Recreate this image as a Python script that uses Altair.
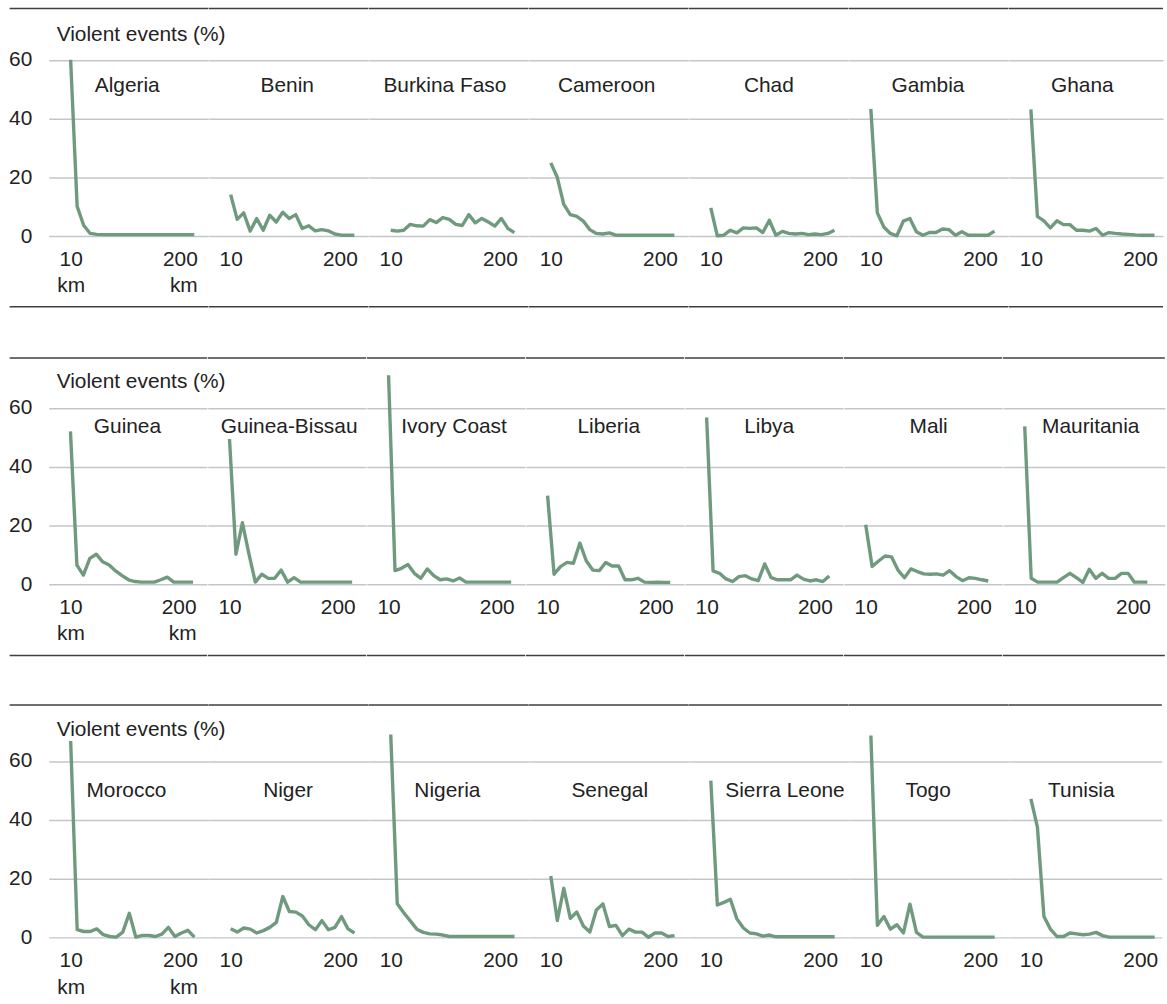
import altair as alt
import pandas as pd

# ---------------- data ----------------
KM = [10, 20, 30, 40, 50, 60, 70, 80, 90, 100, 110, 120, 130, 140, 150, 160, 170, 180, 190, 200]

ROW1 = ["Algeria", "Benin", "Burkina Faso", "Cameroon", "Chad", "Gambia", "Ghana"]
ROW2 = ["Guinea", "Guinea-Bissau", "Ivory Coast", "Liberia", "Libya", "Mali", "Mauritania"]
ROW3 = ["Morocco", "Niger", "Nigeria", "Senegal", "Sierra Leone", "Togo", "Tunisia"]

algeria = [60.0, 10.1, 3.7, 0.9, 0.6, 0.5, 0.5, 0.5, 0.5, 0.5, 0.5, 0.5, 0.5, 0.5, 0.5, 0.5, 0.5, 0.5, 0.5, 0.5]
benin = [14.1, 5.7, 7.9, 1.7, 6.0, 2.0, 7.1, 4.8, 8.1, 6.0, 7.3, 2.6, 3.5, 1.8, 2.2, 1.8, 0.7, 0.3, 0.3, 0.3]
burkina_faso = [2.0, 1.7, 2.0, 4.0, 3.5, 3.4, 5.6, 4.6, 6.3, 5.7, 4.0, 3.6, 7.3, 4.5, 6.0, 4.8, 3.4, 6.0, 2.6, 1.2]
cameroon = [24.9, 20.0, 10.8, 7.3, 6.7, 5.1, 2.2, 0.9, 0.7, 1.1, 0.3, 0.3, 0.3, 0.3, 0.3, 0.3, 0.3, 0.3, 0.3, 0.3]
chad = [9.6, 0.1, 0.3, 2.0, 1.1, 2.8, 2.6, 2.8, 1.2, 5.4, 0.3, 1.6, 0.9, 0.7, 0.9, 0.5, 0.7, 0.5, 0.9, 2.0]
gambia = [43.3, 7.9, 3.1, 0.9, 0.1, 5.1, 6.0, 1.5, 0.3, 1.2, 1.2, 2.4, 2.2, 0.3, 1.5, 0.3, 0.3, 0.3, 0.3, 1.7]
ghana = [43.1, 6.7, 5.2, 2.8, 5.2, 3.9, 3.9, 2.0, 2.0, 1.7, 2.6, 0.3, 1.2, 0.9, 0.7, 0.6, 0.4, 0.3, 0.3, 0.3]

guinea = [52.0, 6.5, 3.1, 8.8, 10.2, 7.6, 6.5, 4.5, 2.9, 1.5, 0.9, 0.7, 0.7, 0.7, 1.5, 2.4, 0.7, 0.7, 0.7, 0.7]
guinea_bissau = [49.4, 10.2, 20.9, 10.4, 0.7, 3.4, 2.0, 2.0, 4.8, 0.7, 2.2, 0.7, 0.7, 0.7, 0.7, 0.7, 0.7, 0.7, 0.7, 0.7]
ivory_coast = [71.1, 4.6, 5.4, 6.7, 3.7, 2.0, 5.2, 2.9, 1.5, 1.8, 1.1, 2.1, 0.7, 0.7, 0.7, 0.7, 0.7, 0.7, 0.7, 0.7]
liberia = [30.1, 3.4, 6.0, 7.4, 7.1, 14.0, 7.9, 4.8, 4.6, 7.4, 6.2, 6.2, 1.5, 1.5, 2.0, 0.7, 0.6, 0.7, 0.6, 0.6]
libya = [56.7, 4.5, 3.7, 1.8, 0.9, 2.6, 2.9, 1.8, 1.2, 6.9, 2.2, 1.5, 1.5, 1.5, 3.1, 1.7, 1.1, 1.5, 0.9, 2.8]
mali = [20.2, 6.0, 7.9, 9.6, 9.3, 4.8, 2.2, 5.2, 4.3, 3.5, 3.4, 3.5, 3.1, 4.6, 2.6, 1.2, 2.2, 2.0, 1.5, 1.1]
mauritania = [53.7, 2.0, 0.7, 0.7, 0.7, 0.7, 2.2, 3.7, 2.2, 0.6, 5.1, 2.0, 3.7, 2.0, 2.0, 3.7, 3.7, 0.7, 0.7, 0.7]

morocco = [66.8, 2.6, 2.0, 2.0, 2.9, 0.9, 0.3, 0.1, 1.8, 8.2, 0.1, 0.7, 0.7, 0.3, 1.1, 3.4, 0.3, 1.5, 2.4, 0.1]
niger = [2.9, 1.8, 3.2, 2.8, 1.5, 2.3, 3.4, 5.1, 13.9, 8.8, 8.6, 7.3, 4.3, 2.6, 5.7, 2.6, 3.4, 7.1, 2.9, 1.5]
nigeria = [69.0, 11.4, 8.4, 5.6, 2.8, 1.7, 1.2, 1.1, 0.8, 0.3, 0.3, 0.3, 0.3, 0.3, 0.3, 0.3, 0.3, 0.3, 0.3, 0.3]
senegal = [20.9, 5.7, 16.7, 6.5, 8.6, 3.9, 1.8, 9.3, 11.4, 3.7, 4.1, 0.6, 2.8, 1.8, 1.8, 0.0, 1.5, 1.5, 0.3, 0.6]
sierra_leone = [53.3, 11.0, 11.9, 13.0, 6.3, 3.2, 1.5, 1.2, 0.4, 0.8, 0.2, 0.2, 0.2, 0.2, 0.2, 0.2, 0.2, 0.2, 0.2, 0.2]
togo = [68.7, 4.1, 7.1, 2.8, 4.3, 1.5, 11.3, 1.7, 0.1, 0.1, 0.1, 0.1, 0.1, 0.1, 0.1, 0.1, 0.1, 0.1, 0.1, 0.1]
tunisia = [47.1, 37.5, 7.1, 2.8, 0.3, 0.3, 1.5, 1.2, 0.9, 1.1, 1.7, 0.6, 0.1, 0.1, 0.1, 0.1, 0.1, 0.1, 0.1, 0.1]

SERIES = {
    "Algeria": algeria, "Benin": benin, "Burkina Faso": burkina_faso, "Cameroon": cameroon,
    "Chad": chad, "Gambia": gambia, "Ghana": ghana,
    "Guinea": guinea, "Guinea-Bissau": guinea_bissau, "Ivory Coast": ivory_coast,
    "Liberia": liberia, "Libya": libya, "Mali": mali, "Mauritania": mauritania,
    "Morocco": morocco, "Niger": niger, "Nigeria": nigeria, "Senegal": senegal,
    "Sierra Leone": sierra_leone, "Togo": togo, "Tunisia": tunisia,
}

X_TICKS = [10, 200]
Y_TICKS = [0, 20, 40, 60]
Y_TITLE = "Violent events (%)"

# ---------------- tables ----------------
long_df = pd.DataFrame(
    [{"country": c, "km": k, "pct": v} for c, vals in SERIES.items() for k, v in zip(KM, vals)]
)
names_df = pd.DataFrame({"country": list(SERIES.keys())})

# ---------------- style / layout ----------------
FONT = "Liberation Sans"
FS = 21
TXT = "#222222"
GRID = "#c3c6c8"
RULE = "#3f3f3f"
GREEN = "#6f9a7e"
X_LO, X_SPAN = -23.7, 245.2
Y_DOMAIN = [0, 70]
H = 207
LEFT = 48.5          # page x of first plot area
RIGHT = 1166.5       # page x where the grid lines end

# page x of the centre of each panel's country name, per row
NAME_X = [
    [127.5, 288, 446, 608.3, 771, 930.5, 1085.3],
    [127.7, 289.5, 454.7, 609.5, 770, 929.7, 1092],
    [126.7, 289, 449, 612, 788, 931.7, 1085.5],
]


def panel(name, idx, w, pw, name_cx, rule_top, rule_bottom, name_y, title_y):
    first = idx == 0
    is200 = "datum.value == 200"
    x_hi = X_LO + pw * X_SPAN / w
    x_axis = alt.Axis(
        values=X_TICKS, grid=False, domain=False, ticks=False, tickSize=0,
        labelFont=FONT, labelFontSize=FS, labelColor=TXT, labelPadding=12.5,
        labelFlush=False, labelOverlap=False,
        labelAlign={"condition": {"test": is200, "value": "right"}, "value": "center"},
        labelOffset={"condition": {"test": is200, "value": 3}, "value": 0},
        labelLineHeight=26.5, title=None,
        labelExpr="[datum.label, 'km']" if first else "datum.label",
    )
    y_axis = alt.Axis(
        values=Y_TICKS, grid=True, gridColor=GRID, gridWidth=1.5,
        domain=False, ticks=False, tickSize=0, labels=first,
        labelFont=FONT, labelFontSize=FS, labelColor=TXT, labelPadding=17,
        title=None,
    )
    line = (
        alt.Chart(long_df)
        .transform_filter(alt.datum.country == name)
        .mark_line(color=GREEN, strokeWidth=3.4, strokeJoin="round")
        .encode(
            x=alt.X("km:Q", scale=alt.Scale(domain=[X_LO, x_hi], nice=False, zero=False), axis=x_axis),
            y=alt.Y("pct:Q", scale=alt.Scale(domain=Y_DOMAIN, nice=False), axis=y_axis),
        )
    )
    one = alt.Chart(names_df).transform_filter(alt.datum.country == name)
    label = one.mark_text(
        font=FONT, fontSize=FS, color=TXT, align="center", baseline="alphabetic"
    ).encode(x=alt.value(name_cx - (LEFT + idx * w)), y=alt.value(name_y), text="country:N")
    x0 = -39.3 if first else 0
    layers = [line, label]
    layers.append(
        one.mark_rule(color=RULE, strokeWidth=1.5).encode(
            x=alt.value(x0), x2=alt.value(pw), y=alt.value(rule_top)
        )
    )
    if rule_bottom is not None:
        layers.append(
            one.mark_rule(color=RULE, strokeWidth=1.5).encode(
                x=alt.value(x0), x2=alt.value(pw), y=alt.value(rule_bottom)
            )
        )
    if first:
        layers.append(
            one.mark_text(
                font=FONT, fontSize=FS, color=TXT, align="left", baseline="alphabetic"
            ).encode(x=alt.value(8), y=alt.value(title_y), text=alt.value(Y_TITLE))
        )
    return alt.layer(*layers).properties(width=pw, height=H)


def row(r, names, w, rule_top, rule_bottom, name_y, title_y):
    last_w = RIGHT - LEFT - 6 * w
    panels = []
    for i, n in enumerate(names):
        pw = last_w if i == len(names) - 1 else w
        panels.append(panel(n, i, w, pw, NAME_X[r][i], rule_top, rule_bottom, name_y, title_y))
    return alt.hconcat(*panels, spacing=0, bounds="flush").resolve_scale(
        x="independent", y="independent"
    )


r1 = row(0, ROW1, 160.5, -22, 278, 61.7, 11)
r2 = row(1, ROW2, 159.2, -20.6, 278.7, 55, 10)
r3 = row(2, ROW3, 160.7, -26.7, None, 65.3, 4.3)

chart = (
    alt.vconcat(
        alt.vconcat(r1, r2, spacing=48.2, bounds="full"),
        r3,
        spacing=46.5,
        bounds="full",
    )
    .properties(padding={"left": 8, "top": 3.5, "right": 0, "bottom": 0}, background="white")
    .configure_view(stroke="transparent")
)

chart.save("out.html", embed_options={"renderer": "svg", "actions": False})
